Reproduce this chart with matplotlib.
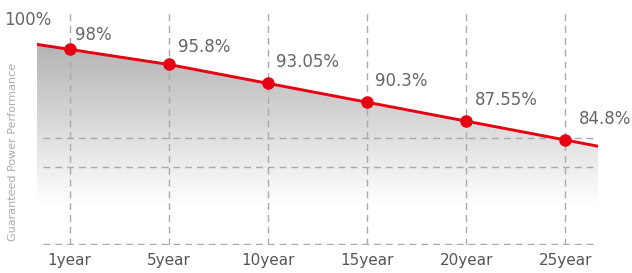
import numpy as np
import matplotlib.pyplot as plt
from matplotlib.colors import LinearSegmentedColormap

years = ["1year", "5year", "10year", "15year", "20year", "25year"]
performance = [98, 95.8, 93.05, 90.3, 87.55, 84.8]
labels = ["98%", "95.8%", "93.05%", "90.3%", "87.55%", "84.8%"]

plt.rcParams['font.family'] = ['DejaVu Sans']

fig = plt.figure(figsize=(6.32, 2.73), dpi=100)
ax = fig.add_axes([37 / 632, 28 / 273, 561 / 632, 232 / 273])

x = np.arange(len(years))
y = np.array(performance)
xmin, xmax = -0.33, len(years) - 1 + 0.33
ymin, ymax = 69.5, 103.3

# extend the line a little past the first and last points
y_left = y[0] - (y[1] - y[0]) * 0.33
y_right = y[-1] + (y[-1] - y[-2]) * 0.33
xl = np.concatenate([[xmin], x, [xmax]])
yl = np.concatenate([[y_left], y, [y_right]])

# gradient fill under the line
cmap = LinearSegmentedColormap.from_list("g", ["#ffffff", "#b2b2b2"])
grad = np.linspace(0, 1, 256).reshape(-1, 1)
img = ax.imshow(grad, cmap=cmap, aspect="auto", origin="lower",
                extent=[xmin, xmax, 75.4, 99.4], zorder=1)
poly = ax.fill_between(xl, yl, ymin, color="none", zorder=1)
img.set_clip_path(poly.get_paths()[0], transform=ax.transData)

# dashed grid
for xi in x:
    ax.plot([xi, xi], [ymin, ymax], ls=(0, (5, 3.5)), color="#aaaaaa", lw=1, zorder=2)
for yi in [ymin + 0.15, 80.8, 85.1]:
    ax.plot([xmin + 0.06, xmax], [yi, yi], ls=(0, (5, 3.5)), color="#aaaaaa", lw=1, zorder=2)

ax.plot(xl, yl, color="#e60012", lw=2.1, zorder=3)
ax.plot(x, y, "o", color="#e60012", ms=8, zorder=4)

offsets = [(5, 5), (9, 8), (8, 12), (8, 12), (9, 12), (14, 12)]
for xi, yi, t, (dx, dy) in zip(x, y, labels, offsets):
    ax.annotate(t, (xi, yi), xytext=(dx * 0.72, dy * 0.72), textcoords="offset points",
                fontsize=12, color="#666666", ha="left", va="bottom")

ax.set_xlim(xmin, xmax)
ax.set_ylim(ymin, ymax)
ax.set_xticks(x)
ax.set_xticklabels(years, fontsize=11, color="#555555")
ax.set_yticks([])
ax.tick_params(axis="x", length=0, pad=6)
for s in ax.spines.values():
    s.set_visible(False)

fig.text(4 / 632, 1 - 20 / 273, "100%", fontsize=12, color="#666666",
         va="center", ha="left")
fig.text(13 / 632, 1 - 152 / 273, "Guaranteed Power Performance", fontsize=8,
         color="#aaaaaa", rotation=90, va="center", ha="center")

fig.savefig("out.png", dpi=100)
